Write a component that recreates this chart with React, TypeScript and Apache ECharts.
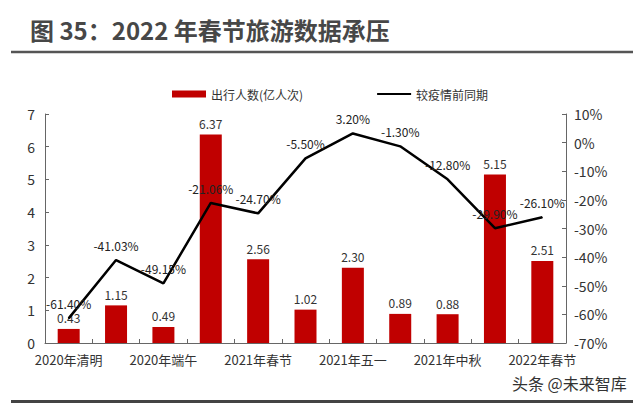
import React, { useEffect, useRef } from "react";
import * as echarts from "echarts";

const categories = [
  "2020年清明",
  "2020年五一",
  "2020年端午",
  "2020年国庆",
  "2021年春节",
  "2021年清明",
  "2021年五一",
  "2021年端午",
  "2021年中秋",
  "2021年国庆",
  "2022年春节",
];
const travelers = [0.43, 1.15, 0.49, 6.37, 2.56, 1.02, 2.3, 0.89, 0.88, 5.15, 2.51];
const vsPrePandemic = [-61.4, -41.03, -49.15, -21.06, -24.7, -5.5, 3.2, -1.3, -12.8, -29.9, -26.1];
const barName = "出行人数(亿人次)";
const lineName = "较疫情前同期";

const FONT = "'Noto Sans CJK SC', 'Noto Sans', sans-serif";

export default function App() {
  const ref = useRef<HTMLDivElement>(null);
  useEffect(() => {
    if (!ref.current) return;
    const chart = echarts.init(ref.current, undefined, { renderer: "svg" });
    chart.setOption({
      animation: false,
      backgroundColor: "#ffffff",
      textStyle: { fontFamily: FONT },
      title: {
        text: "图 35：2022 年春节旅游数据承压",
        left: 25,
        top: 12,
        textStyle: { fontSize: 24, fontWeight: "bold", color: "#474747", fontFamily: FONT },
      },
      graphic: [
        { type: "line", shape: { x1: 11, y1: 52, x2: 633, y2: 52 }, style: { stroke: "#555", lineWidth: 2.5 } },
        { type: "rect", shape: { x: 11, y: 400, width: 622, height: 3 }, style: { fill: "#444" } },
        {
          type: "text",
          x: 512,
          y: 383,
          style: { text: "头条 @未来智库", fontSize: 16, fill: "#333", fontFamily: FONT, verticalAlign: "middle" },
        },
      ],
      legend: {
        left: 167,
        top: 83,
        itemWidth: 34,
        itemHeight: 7,
        itemGap: 73,
        textStyle: { fontSize: 12, color: "#333", fontFamily: FONT },
        data: [
          { name: barName, icon: "rect" },
          { name: lineName, itemStyle: { opacity: 0 } },
        ],
      },
      grid: { left: 45, right: 74, top: 114, bottom: 60 },
      xAxis: {
        type: "category",
        data: categories,
        boundaryGap: true,
        axisLine: { lineStyle: { color: "#666", width: 1 } },
        axisTick: { show: true, inside: true, length: 4, alignWithLabel: false, interval: 0, lineStyle: { color: "#666" } },
        axisLabel: { interval: 1, fontSize: 13, color: "#333", margin: 10, fontFamily: FONT },
      },
      yAxis: [
        {
          type: "value",
          min: 0,
          max: 7,
          interval: 1,
          splitLine: { show: false },
          axisLine: { show: true, lineStyle: { color: "#666" } },
          axisTick: { show: true, inside: true, length: 4, lineStyle: { color: "#666" } },
          axisLabel: { fontSize: 14, color: "#333", margin: 10, fontFamily: FONT },
        },
        {
          type: "value",
          min: -70,
          max: 10,
          interval: 10,
          position: "right",
          splitLine: { show: false },
          axisLine: { show: true, lineStyle: { color: "#666" } },
          axisTick: { show: true, inside: true, length: 4, lineStyle: { color: "#666" } },
          axisLabel: { fontSize: 14, color: "#333", margin: 8, formatter: "{value}%", fontFamily: FONT },
        },
      ],
      series: [
        {
          name: barName,
          type: "bar",
          data: travelers,
          barWidth: 22,
          itemStyle: { color: "#C00000" },
          label: {
            show: true,
            position: "top",
            distance: 5,
            fontSize: 12,
            color: "#333",
            formatter: (p: any) => Number(p.value).toFixed(2),
          },
        },
        {
          name: lineName,
          type: "line",
          yAxisIndex: 1,
          data: vsPrePandemic,
          symbol: "circle",
          symbolSize: 1,
          showSymbol: true,
          lineStyle: { color: "#000", width: 2.5 },
          itemStyle: { color: "#000" },
          label: {
            show: true,
            position: "top",
            distance: 8,
            fontSize: 12,
            color: "#222",
            formatter: (p: any) => Number(p.value).toFixed(2) + "%",
          },
          z: 3,
        },
      ],
    });
    return () => chart.dispose();
  }, []);
  return <div ref={ref} style={{ position: "fixed", left: 0, top: 0, width: 640, height: 403 }} />;
}
